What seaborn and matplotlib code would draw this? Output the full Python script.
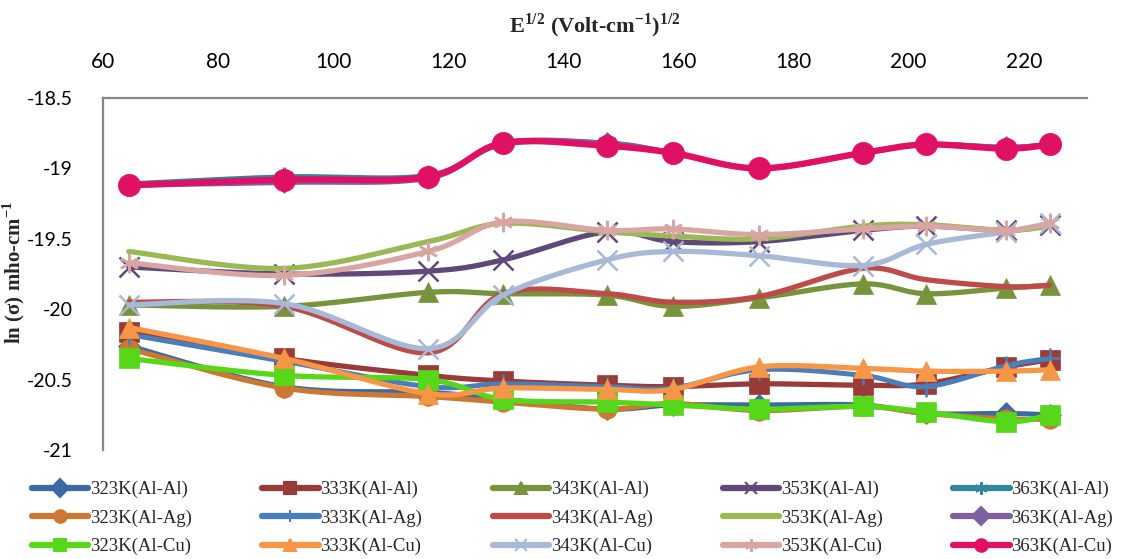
import numpy as np
import pandas as pd
import seaborn as sns
import matplotlib
matplotlib.use("Agg")
import matplotlib.pyplot as plt
from matplotlib.lines import Line2D

# ---------------- data ----------------
field = [64.5, 91.5, 116.5, 129.5, 147.5, 159, 174, 192, 203, 217, 224.5]

s323_AlAl = [-20.26, -20.55, -20.59, -20.64, -20.71, -20.68, -20.68, -20.68, -20.74, -20.74, -20.75]
s333_AlAl = [-20.16, -20.35, -20.47, -20.51, -20.54, -20.55, -20.53, -20.54, -20.53, -20.41, -20.36]
s343_AlAl = [-19.97, -19.98, -19.88, -19.89, -19.90, -19.98, -19.92, -19.82, -19.89, -19.85, -19.83]
s353_AlAl = [-19.70, -19.75, -19.73, -19.65, -19.45, -19.52, -19.52, -19.44, -19.41, -19.44, -19.40]
s363_AlAl = [-19.11, -19.06, -19.05, -18.83, -18.82, -18.89, -19.00, -18.89, -18.83, -18.85, -18.83]
s323_AlAg = [-20.28, -20.56, -20.62, -20.66, -20.71, -20.67, -20.72, -20.69, -20.74, -20.78, -20.78]
s333_AlAg = [-20.18, -20.37, -20.55, -20.53, -20.55, -20.56, -20.43, -20.47, -20.55, -20.40, -20.35]
s343_AlAg = [-19.95, -19.98, -20.31, -19.89, -19.89, -19.95, -19.91, -19.71, -19.79, -19.84, -19.83]
s353_AlAg = [-19.59, -19.71, -19.52, -19.39, -19.45, -19.48, -19.50, -19.41, -19.40, -19.44, -19.41]
s363_AlAg = [-19.12, -19.10, -19.07, -18.82, -18.82, -18.89, -19.00, -18.89, -18.83, -18.85, -18.83]
s323_AlCu = [-20.35, -20.47, -20.50, -20.64, -20.66, -20.68, -20.71, -20.69, -20.73, -20.80, -20.75]
s333_AlCu = [-20.13, -20.35, -20.60, -20.56, -20.57, -20.57, -20.41, -20.42, -20.44, -20.44, -20.43]
s343_AlCu = [-19.97, -19.96, -20.28, -19.90, -19.65, -19.59, -19.62, -19.69, -19.54, -19.45, -19.39]
s353_AlCu = [-19.67, -19.76, -19.59, -19.38, -19.44, -19.43, -19.47, -19.43, -19.41, -19.44, -19.39]
s363_AlCu = [-19.12, -19.08, -19.06, -18.82, -18.84, -18.89, -19.00, -18.89, -18.83, -18.86, -18.83]

labels = ["323K(Al-Al)", "333K(Al-Al)", "343K(Al-Al)", "353K(Al-Al)", "363K(Al-Al)",
          "323K(Al-Ag)", "333K(Al-Ag)", "343K(Al-Ag)", "353K(Al-Ag)", "363K(Al-Ag)",
          "323K(Al-Cu)", "333K(Al-Cu)", "343K(Al-Cu)", "353K(Al-Cu)", "363K(Al-Cu)"]
series = [s323_AlAl, s333_AlAl, s343_AlAl, s353_AlAl, s363_AlAl,
          s323_AlAg, s333_AlAg, s343_AlAg, s353_AlAg, s363_AlAg,
          s323_AlCu, s333_AlCu, s343_AlCu, s353_AlCu, s363_AlCu]

x_ticks = [60, 80, 100, 120, 140, 160, 180, 200, 220]
y_ticks = [-18.5, -19, -19.5, -20, -20.5, -21]

# ---------------- styles ----------------
colors = ["#3C6AA3", "#9B3B38", "#77933C", "#60497A", "#31859C",
          "#CC7833", "#4A7EBB", "#BE4B48", "#98B954", "#7D60A0",
          "#56D71A", "#F79646", "#A7B9D7", "#D8A5A3", "#E01065"]
star = (6, 2, 0)
markers = ["D", "s", "^", "x", star,
           "o", "+", None, None, "D",
           "s", "^", "x", star, "o"]
msizes = [11, 14, 15, 14, 14,
          14, 14, 0, 0, 11,
          14, 15, 14, 14, 16]
lwidths = [3.6, 3.8, 3.8, 3.8, 3.6,
           3.8, 3.6, 3.8, 3.8, 3.6,
           3.8, 3.8, 3.8, 3.8, 4.6]

sns.set_theme(style="white")
plt.rcParams["font.family"] = ["Lato", "DejaVu Sans"]
plt.rcParams["mathtext.fontset"] = "custom"
plt.rcParams["mathtext.rm"] = "Liberation Serif:bold"
plt.rcParams["mathtext.bf"] = "Liberation Serif:bold"
plt.rcParams["axes.unicode_minus"] = False


def smooth(xv, yv, n=24):
    """Excel-like smoothed line through the data points (Catmull-Rom Bezier)."""
    p = np.column_stack([xv, yv]).astype(float)
    out = []
    for i in range(len(p) - 1):
        p0 = p[i - 1] if i > 0 else p[i]
        p1, p2 = p[i], p[i + 1]
        p3 = p[i + 2] if i + 2 < len(p) else p[i + 1]
        c1 = p1 + (p2 - p0) / 6.0
        c2 = p2 - (p3 - p1) / 6.0
        t = np.linspace(0, 1, n, endpoint=(i == len(p) - 2))[:, None]
        seg = ((1 - t) ** 3) * p1 + 3 * ((1 - t) ** 2) * t * c1 + 3 * (1 - t) * t ** 2 * c2 + t ** 3 * p2
        out.append(seg)
    out = np.vstack(out)
    return out[:, 0], out[:, 1]


fig = plt.figure(figsize=(11.32, 5.59), dpi=100)
ax = fig.add_axes([103 / 1132, 1 - 450 / 559, (1087 - 103) / 1132, (450 - 98) / 559])

handles = []
for k, (lab, ys) in enumerate(zip(labels, series)):
    xs_s, ys_s = smooth(field, ys)
    df = pd.DataFrame({"x": xs_s, "y": ys_s})
    sns.lineplot(data=df, x="x", y="y", sort=False, ax=ax, color=colors[k],
                 linewidth=lwidths[k], zorder=2 + k, legend=False,
                 solid_capstyle="round")
    if markers[k] is not None:
        thin = markers[k] in ("x", "+", star)
        ax.plot(field, ys, linestyle="none", marker=markers[k], markersize=msizes[k],
                color=colors[k], markeredgewidth=1.8 if thin else 0.5,
                markeredgecolor=colors[k], zorder=2 + k + 0.5)
    h = Line2D([0], [0], color=colors[k], linewidth=4.5,
               marker=markers[k] if markers[k] is not None else None,
               markersize=9 if markers[k] is not None else 0,
               markeredgewidth=1.5, markeredgecolor=colors[k])
    handles.append(h)

ax.set_xlim(60, 231)
ax.set_ylim(-21, -18.5)
ax.set_xticks(x_ticks)
ax.set_yticks(y_ticks)
ax.set_yticklabels([("%g" % v) for v in y_ticks])
ax.xaxis.tick_top()
ax.xaxis.set_label_position("top")
ax.tick_params(axis="x", length=0, pad=19, labelsize=15, colors="black")
ax.tick_params(axis="y", length=0, pad=22, labelsize=14, colors="black")

for side in ("right", "bottom"):
    ax.spines[side].set_visible(False)
for side in ("left", "top"):
    ax.spines[side].set_color("#878787")
    ax.spines[side].set_linewidth(1.6)

ax.set_xlabel(r"E$^{1/2}$ (Volt-cm$^{-1}$)$^{1/2}$", fontsize=16, fontweight="bold",
              family="Liberation Serif", labelpad=14)
ax.set_ylabel("")
fig.text(14 / 1132, 1 - 272 / 559, r"ln (σ) mho-cm$^{-1}$", rotation=90,
         ha="center", va="center", fontsize=15, fontweight="bold",
         family="Liberation Serif")
ax.grid(False)

# legend filled row by row (matplotlib fills column-wise)
ncol, nrow = 5, 3
order = [r * ncol + c for c in range(ncol) for r in range(nrow)]
fig.legend([handles[i] for i in order], [labels[i] for i in order],
           ncol=ncol, loc="upper left", bbox_to_anchor=(32 / 1132, 1 - 481 / 559),
           frameon=False, prop={"family": "Liberation Serif", "size": 13.5},
           handlelength=3.0, handletextpad=0.1, columnspacing=3.75,
           labelspacing=0.6, borderaxespad=0, borderpad=0)

fig.savefig("out.png", dpi=100)
